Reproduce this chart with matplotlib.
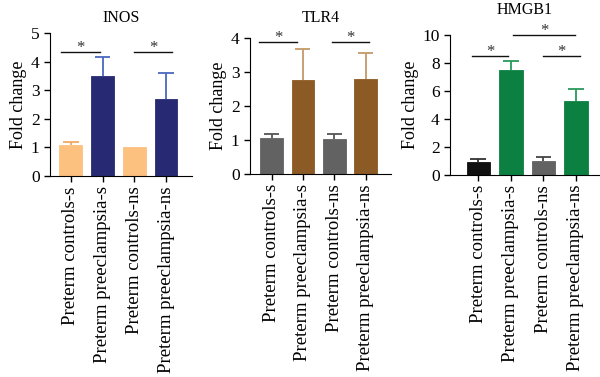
import numpy as np
import matplotlib.pyplot as plt

plt.rcParams['font.family'] = ['Liberation Serif', 'DejaVu Serif']

groups = ['Preterm controls-s', 'Preterm preeclampsia-s',
          'Preterm controls-ns', 'Preterm preeclampsia-ns']

inos_mean = [1.07, 3.5, 1.0, 2.7]
inos_err = [0.12, 0.65, 0.0, 0.9]
tlr4_mean = [1.06, 2.77, 1.03, 2.78]
tlr4_err = [0.10, 0.90, 0.13, 0.78]
hmgb1_mean = [0.93, 7.45, 1.0, 5.25]
hmgb1_err = [0.17, 0.65, 0.24, 0.85]

# (title, means, errors, bar colours, error colours, ymax, ystep, axes rect, xlim,
#  title pad, significance lines as (x0, x1, y))
panels = [
    ('INOS', inos_mean, inos_err,
     ['#fdc17f', '#272a72', '#fdc17f', '#272a72'],
     ['#f4a860', '#4a68bf', '#f4a860', '#4a68bf'],
     5, 1, [0.0833, 0.533, 0.2367, 0.379], (-0.66, 3.82), 8,
     [(-0.3, 0.92, 4.35), (2.0, 3.2, 4.35)]),
    ('TLR4', tlr4_mean, tlr4_err,
     ['#626262', '#8c5a24', '#626262', '#8c5a24'],
     ['#555555', '#c49a68', '#555555', '#c49a68'],
     4, 1, [0.4167, 0.539, 0.235, 0.361], (-0.69, 3.81), 11,
     [(-0.4, 0.8, 3.86), (1.92, 3.12, 3.86)]),
    ('HMGB1', hmgb1_mean, hmgb1_err,
     ['#101010', '#0c8040', '#626262', '#0c8040'],
     ['#333333', '#2a9a5a', '#444444', '#2a9a5a'],
     10, 2, [0.75, 0.537, 0.25, 0.371], (-0.87, 3.74), 15,
     [(-0.2, 0.92, 8.5), (1.07, 2.97, 10.0), (1.98, 3.12, 8.5)]),
]

fig = plt.figure(figsize=(6, 3.77), dpi=100)

for title, mean, err, cols, ecols, ymax, ystep, rect, xl, tpad, sig in panels:
    ax = fig.add_axes(rect)
    x = np.arange(len(groups))
    ax.bar(x, mean, width=0.72, color=cols, edgecolor=cols, linewidth=0.6, zorder=2)
    # one-sided (upper) error bars
    for xi, m, e, ec in zip(x, mean, err, ecols):
        if e > 0:
            ax.vlines(xi, m, m + e, color=ec, lw=1.3, zorder=3)
            ax.hlines(m + e, xi - 0.24, xi + 0.24, color=ec, lw=1.3, zorder=3)
    for x0, x1, y in sig:
        ax.plot([x0, x1], [y, y], color='#111111', lw=1.0, clip_on=False)
        ax.text((x0 + x1) / 2, y, '*', ha='center', va='baseline',
                fontsize=12, color='#333333')
    ax.set_xlim(*xl)
    ax.set_ylim(0, ymax)
    ax.set_yticks(np.arange(0, ymax + ystep / 2, ystep))
    ax.set_xticks(x)
    ax.set_xticklabels(groups, rotation=90, fontsize=13.5)
    ax.tick_params(axis='y', labelsize=12.5, length=4.5, width=1, pad=3)
    ax.tick_params(axis='x', length=4, width=1)
    ax.spines['top'].set_visible(False)
    ax.spines['right'].set_visible(False)
    ax.set_ylabel('Fold change', fontsize=13, labelpad=2.5)
    ax.set_title(title, fontsize=11.5, pad=tpad)

fig.savefig('out.png', dpi=100)
